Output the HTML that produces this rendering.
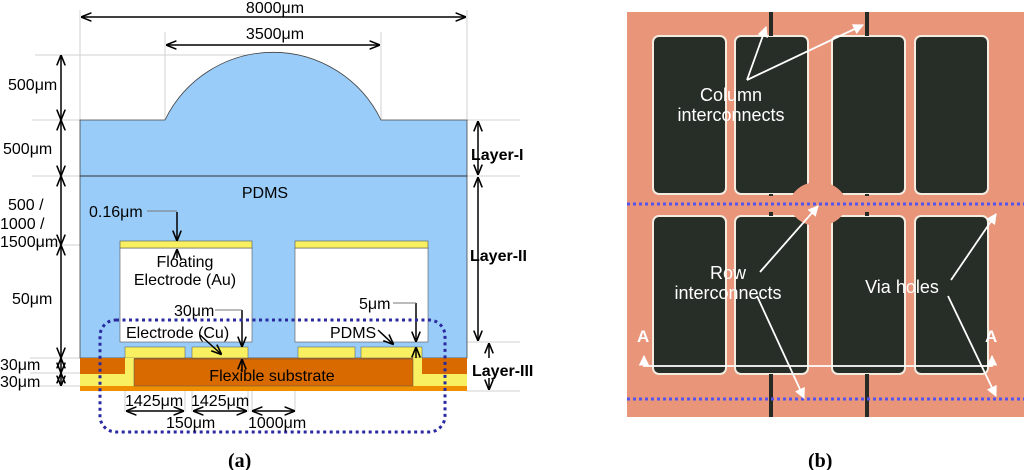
<!DOCTYPE html>
<html><head><meta charset="utf-8"><style>
html,body{margin:0;padding:0;background:#fff;}
svg{display:block;font-family:"Liberation Sans",sans-serif;}
</style></head><body>
<svg width="1024" height="470" viewBox="0 0 1024 470" xmlns="http://www.w3.org/2000/svg">
<defs>
<marker id="a" viewBox="0 0 10 10" refX="9" refY="5" markerWidth="7" markerHeight="7" orient="auto-start-reverse"><path d="M0,1 L10,5 L0,9" fill="none" stroke="#000" stroke-width="1.5"/></marker>
<marker id="w" viewBox="0 0 10 10" refX="9" refY="5" markerWidth="6" markerHeight="6" orient="auto-start-reverse"><path d="M0,0 L10,5 L0,10 z" fill="#fff"/></marker>
</defs>
<g stroke="#d0d0d0" stroke-width="1">
<line x1="80" y1="10" x2="80" y2="120"/><line x1="467" y1="10" x2="467" y2="120"/>
<line x1="165" y1="32" x2="165" y2="120"/><line x1="381" y1="32" x2="381" y2="120"/>
<line x1="35" y1="55" x2="270" y2="55"/>
<line x1="32" y1="120" x2="80" y2="120"/><line x1="32" y1="176" x2="80" y2="176"/>
<line x1="467" y1="120" x2="520" y2="120"/><line x1="467" y1="176" x2="520" y2="176"/>
<line x1="35" y1="245" x2="120" y2="245"/>
<line x1="30" y1="358" x2="80" y2="358"/><line x1="30" y1="373" x2="80" y2="373"/><line x1="30" y1="386" x2="80" y2="386"/>
<line x1="428" y1="342" x2="520" y2="342"/><line x1="467" y1="391" x2="520" y2="391"/>
<line x1="125" y1="386" x2="125" y2="412"/><line x1="185" y1="358" x2="185" y2="412"/><line x1="192" y1="358" x2="192" y2="412"/><line x1="248" y1="358" x2="248" y2="412"/><line x1="252" y1="358" x2="252" y2="412"/><line x1="295" y1="358" x2="295" y2="412"/>
</g>
<path d="M80,120 L165,120 A120,120 0 0 1 381,120 L467,120 L467,358 L80,358 Z" fill="#99ccf8" stroke="#444" stroke-width="0.8"/>
<line x1="80" y1="176" x2="467" y2="176" stroke="#333" stroke-width="1"/>
<rect x="120" y="248" width="132" height="94" fill="#fff" stroke="#555" stroke-width="0.6"/>
<rect x="295" y="248" width="133" height="94" fill="#fff" stroke="#555" stroke-width="0.6"/>
<rect x="120" y="241" width="132" height="7" fill="#f8f060" stroke="#555" stroke-width="0.6"/>
<rect x="295" y="241" width="133" height="7" fill="#f8f060" stroke="#555" stroke-width="0.6"/>
<rect x="80" y="358" width="387" height="16" fill="#d86a00"/>
<rect x="80" y="374" width="387" height="12" fill="#f8f060"/>
<rect x="80" y="386" width="387" height="5" fill="#f09000"/>
<rect x="125" y="347" width="60" height="11" fill="#f8f060" stroke="#555" stroke-width="0.5"/>
<rect x="192" y="347" width="56" height="11" fill="#f8f060" stroke="#555" stroke-width="0.5"/>
<rect x="298" y="347" width="57" height="11" fill="#f8f060" stroke="#555" stroke-width="0.5"/>
<rect x="361" y="347" width="61" height="11" fill="#f8f060" stroke="#555" stroke-width="0.5"/>
<rect x="125" y="358" width="9" height="28" fill="#f8f060"/>
<rect x="413" y="358" width="9" height="28" fill="#f8f060"/>
<rect x="134" y="359" width="279" height="27" fill="#d86a00" stroke="#555" stroke-width="0.5"/>
<g stroke="#000" stroke-width="1.5" fill="none">
<line x1="82" y1="17" x2="465" y2="17" marker-start="url(#a)" marker-end="url(#a)"/>
<line x1="167" y1="45" x2="379" y2="45" marker-start="url(#a)" marker-end="url(#a)"/>
<line x1="61" y1="56" x2="61" y2="119" marker-start="url(#a)" marker-end="url(#a)"/>
<line x1="61" y1="121" x2="61" y2="175" marker-start="url(#a)" marker-end="url(#a)"/>
<line x1="61" y1="177" x2="61" y2="244" marker-start="url(#a)" marker-end="url(#a)"/>
<line x1="61" y1="246" x2="61" y2="357" marker-start="url(#a)" marker-end="url(#a)"/>
<line x1="61" y1="359" x2="61" y2="372" marker-start="url(#a)" marker-end="url(#a)"/>
<line x1="61" y1="374" x2="61" y2="385" marker-start="url(#a)" marker-end="url(#a)"/>
<line x1="478" y1="122" x2="478" y2="174" marker-start="url(#a)" marker-end="url(#a)"/>
<line x1="478" y1="178" x2="478" y2="340" marker-start="url(#a)" marker-end="url(#a)"/>
<line x1="489" y1="358" x2="489" y2="344" marker-end="url(#a)"/>
<line x1="489" y1="378" x2="489" y2="389" marker-end="url(#a)"/>
<line x1="127" y1="411" x2="183" y2="411" marker-start="url(#a)" marker-end="url(#a)"/>
<line x1="194" y1="411" x2="246" y2="411" marker-start="url(#a)" marker-end="url(#a)"/>
<line x1="253" y1="411" x2="294" y2="411" marker-start="url(#a)" marker-end="url(#a)"/>
<line x1="177" y1="212" x2="177" y2="240" marker-end="url(#a)"/>
<line x1="177" y1="258" x2="177" y2="250" marker-end="url(#a)"/>
<line x1="242" y1="310" x2="242" y2="346" marker-end="url(#a)"/>
<line x1="242" y1="372" x2="242" y2="360" marker-end="url(#a)"/>
<line x1="416" y1="303" x2="416" y2="341" marker-end="url(#a)"/>
<line x1="416" y1="358" x2="416" y2="348" marker-end="url(#a)"/>
<line x1="200" y1="335" x2="221" y2="354" marker-end="url(#a)"/>
<line x1="378" y1="330" x2="393" y2="344" marker-end="url(#a)"/>
</g>
<g stroke="#777" stroke-width="1"><line x1="147" y1="211" x2="177" y2="211"/><line x1="215" y1="310" x2="242" y2="310"/><line x1="393" y1="303" x2="416" y2="303"/></g>
<rect x="100" y="320" width="345" height="112" rx="16" fill="none" stroke="#2a2aa0" stroke-width="3" stroke-dasharray="3,3.5"/>
<g font-size="16" fill="#000">
<text x="275" y="13" text-anchor="middle">8000μm</text>
<text x="275" y="39" text-anchor="middle">3500μm</text>
<text x="8" y="90">500μm</text>
<text x="3" y="154">500μm</text>
<text x="8" y="210">500 /</text>
<text x="0" y="229">1000 /</text>
<text x="0" y="247">1500μm</text>
<text x="12" y="304">50μm</text>
<text x="0" y="370">30μm</text>
<text x="0" y="387">30μm</text>
<text x="265" y="198" text-anchor="middle">PDMS</text>
<text x="89" y="217">0.16μm</text>
<text x="185" y="267" text-anchor="middle">Floating</text>
<text x="185" y="285" text-anchor="middle">Electrode (Au)</text>
<text x="174" y="316">30μm</text>
<text x="126" y="338">Electrode (Cu)</text>
<text x="359" y="309">5μm</text>
<text x="330" y="338">PDMS</text>
<text x="272" y="381" text-anchor="middle">Flexible substrate</text>
<text x="125" y="406">1425μm</text>
<text x="191" y="406">1425μm</text>
<text x="166" y="428">150μm</text>
<text x="248" y="428">1000μm</text>
</g>
<g font-size="16" font-weight="bold"><text x="471" y="160">Layer-I</text><text x="470" y="261">Layer-II</text><text x="472" y="376">Layer-III</text></g>
<g font-family="Liberation Serif,serif" font-size="20" font-weight="bold"><text x="228" y="467">(a)</text><text x="808" y="467">(b)</text></g>
<rect x="627" y="12" width="397" height="405" fill="#e8957a"/>
<g fill="#272d27" stroke="#f4ece0" stroke-width="2">
<rect x="653" y="36" width="73" height="158" rx="6"/>
<rect x="735" y="36" width="73" height="158" rx="6"/>
<rect x="832" y="36" width="73" height="158" rx="6"/>
<rect x="915" y="36" width="73" height="158" rx="6"/>
<rect x="653" y="216" width="73" height="158" rx="6"/>
<rect x="735" y="216" width="73" height="158" rx="6"/>
<rect x="832" y="216" width="73" height="158" rx="6"/>
<rect x="915" y="216" width="73" height="158" rx="6"/>
</g>
<g stroke="#262a24" stroke-width="4"><line x1="771" y1="12" x2="771" y2="36"/><line x1="867" y1="12" x2="867" y2="36"/><line x1="771" y1="374" x2="771" y2="417"/><line x1="867" y1="374" x2="867" y2="417"/><line x1="771" y1="194" x2="771" y2="216"/><line x1="867" y1="194" x2="867" y2="216"/></g>
<ellipse cx="818" cy="204" rx="28" ry="22" fill="#e8957a"/>
<rect x="640" y="196" width="360" height="16" fill="#e8957a"/>
<g stroke="#5555ee" stroke-width="3" stroke-dasharray="3,3"><line x1="627" y1="204" x2="1024" y2="204"/><line x1="627" y1="399" x2="1024" y2="399"/></g>
<g stroke="#fff" stroke-width="1.8" fill="none">
<line x1="747" y1="80" x2="766" y2="27" marker-end="url(#w)"/>
<line x1="747" y1="80" x2="863" y2="25" marker-end="url(#w)"/>
<line x1="760" y1="272" x2="818" y2="206" marker-end="url(#w)"/>
<line x1="757" y1="296" x2="804" y2="398" marker-end="url(#w)"/>
<line x1="951" y1="280" x2="996" y2="214" marker-end="url(#w)"/>
<line x1="948" y1="296" x2="996" y2="396" marker-end="url(#w)"/>
<polyline points="644,356 644,366 992,366 992,356" marker-start="url(#w)" marker-end="url(#w)"/>
</g>
<g fill="#fff" font-size="18" text-anchor="middle">
<text x="731" y="101">Column</text><text x="731" y="121">interconnects</text>
<text x="728" y="279">Row</text><text x="728" y="299">interconnects</text>
<text x="902" y="293">Via holes</text>
</g>
<g fill="#fff" font-size="17" font-weight="bold"><text x="637" y="342">A</text><text x="985" y="342">A</text></g>
</svg>
</body></html>
